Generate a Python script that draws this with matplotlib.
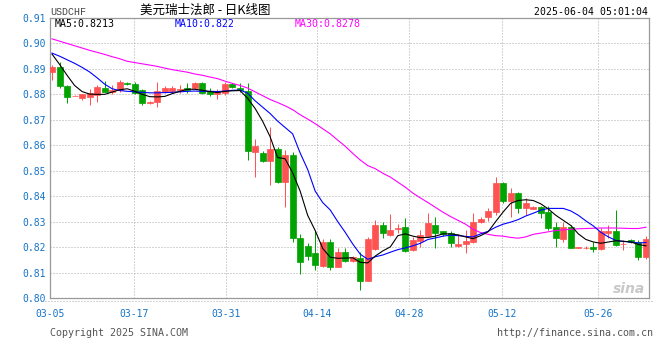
import matplotlib
matplotlib.use("Agg")
from matplotlib import pyplot as plt
from matplotlib.lines import Line2D

# daily candles, 2025-03-04 .. 2025-06-04 (Sina forex, Mon-Sat bars)
opens = [.8889, .8909, .8833, .8793, .8787, .8791, .8797, .8826, .8808, .8817,
         .8846, .8841, .8817, .8765, .8771, .8810, .8812, .8819, .8826, .8826,
         .8843, .8815, .8800, .8804, .8839, .8826, .8814, .8575, .8568, .8539,
         .8585, .8457, .8562, .8234, .8204, .8178, .8126, .8221, .8123, .8182,
         .8146, .8156, .8068, .8192, .8287, .8247, .8272, .8277, .8188, .8224,
         .8245, .8287, .8262, .8254, .8204, .8212, .8221, .8300, .8317, .8339,
         .8450, .8382, .8414, .8352, .8349, .8356, .8339, .8280, .8232, .8277,
         .8198, .8196, .8199, .8192, .8254, .8263, .8211, .8228, .8221, .8162]
highs = [.8915, .8926, .8835, .8796, .8801, .8820, .8837, .8852, .8835, .8856,
         .8848, .8850, .8820, .8773, .8848, .8832, .8832, .8838, .8845, .8850,
         .8850, .8825, .8820, .8850, .8845, .8845, .8843, .8623, .8577, .8670,
         .8595, .8581, .8575, .8251, .8215, .8267, .8230, .8230, .8195, .8195,
         .8165, .8182, .8240, .8306, .8300, .8330, .8290, .8313, .8240, .8267,
         .8333, .8319, .8264, .8263, .8253, .8267, .8335, .8319, .8352, .8477,
         .8457, .8431, .8418, .8392, .8362, .8361, .8361, .8300, .8300, .8285,
         .8201, .8203, .8221, .8274, .8287, .8346, .8228, .8232, .8228, .8243]
lows = [.8856, .8824, .8765, .8792, .8778, .8758, .8771, .8808, .8800, .8810,
        .8838, .8800, .8760, .8763, .8751, .8805, .8805, .8805, .8805, .8820,
        .8800, .8795, .8780, .8798, .8825, .8810, .8542, .8474, .8536, .8444,
        .8450, .8356, .8221, .8094, .8150, .8110, .8120, .8110, .8120, .8140,
        .8143, .8031, .8065, .8188, .8234, .8245, .8254, .8182, .8185, .8201,
        .8241, .8197, .8243, .8199, .8200, .8176, .8218, .8295, .8304, .8326,
        .8372, .8319, .8333, .8326, .8348, .8313, .8267, .8201, .8221, .8197,
        .8197, .8192, .8182, .8188, .8234, .8204, .8188, .8215, .8149, .8152]
closes = [.8909, .8834, .8791, .8795, .8800, .8807, .8828, .8810, .8818, .8849,
          .8840, .8804, .8765, .8771, .8813, .8826, .8826, .8821, .8818, .8843,
          .8807, .8800, .8813, .8839, .8830, .8817, .8579, .8597, .8539, .8585,
          .8457, .8562, .8234, .8143, .8166, .8130, .8221, .8123, .8182, .8146,
          .8160, .8068, .8232, .8287, .8256, .8267, .8274, .8186, .8228, .8247,
          .8296, .8254, .8252, .8218, .8212, .8225, .8300, .8309, .8343, .8453,
          .8382, .8411, .8352, .8372, .8356, .8335, .8276, .8234, .8280, .8197,
          .8200, .8198, .8192, .8262, .8263, .8208, .8213, .8220, .8162, .8230]

# moving averages as drawn on the chart
ma5 = [.8958, .8918, .8875, .8835, .8811, .8801, .8800, .8800, .8809, .8818,
       .8822, .8812, .8800, .8791, .8790, .8792, .8803, .8812, .8820, .8820,
       .8816, .8811, .8807, .8812, .8814, .8815, .8785, .8745, .8695, .8634,
       .8552, .8547, .8492, .8420, .8325, .8265, .8195, .8160, .8156, .8157,
       .8158, .8140, .8138, .8165, .8185, .8201, .8245, .8252, .8243, .8237,
       .8238, .8243, .8252, .8252, .8248, .8240, .8233, .8245, .8260, .8300,
       .8338, .8372, .8383, .8386, .8383, .8370, .8350, .8325, .8305, .8285,
       .8252, .8230, .8220, .8215, .8220, .8225, .8223, .8220, .8210, .8205]
ma10 = [.8962, .8950, .8936, .8922, .8906, .8888, .8865, .8840, .8822, .8815,
        .8812, .8810, .8808, .8806, .8806, .8807, .8808, .8810, .8812, .8813,
        .8812, .8812, .8811, .8813, .8816, .8817, .8805, .8775, .8750, .8725,
        .8695, .8670, .8645, .8570, .8505, .8420, .8375, .8346, .8300, .8258,
        .8212, .8172, .8152, .8162, .8169, .8180, .8190, .8197, .8205, .8215,
        .8230, .8236, .8243, .8247, .8245, .8242, .8240, .8252, .8262, .8278,
        .8290, .8298, .8308, .8322, .8333, .8345, .8352, .8352, .8352, .8342,
        .8325, .8303, .8283, .8258, .8240, .8226, .8222, .8220, .8216, .8218]
ma30 = [.9018, .9009, .9000, .8991, .8982, .8973, .8965, .8957, .8948, .8940,
        .8930, .8925, .8920, .8915, .8910, .8903, .8897, .8892, .8887, .8880,
        .8875, .8868, .8862, .8852, .8843, .8835, .8825, .8810, .8795, .8780,
        .8768, .8755, .8740, .8720, .8703, .8685, .8665, .8645, .8620, .8596,
        .8568, .8542, .8520, .8508, .8490, .8475, .8455, .8435, .8412, .8393,
        .8375, .8356, .8337, .8320, .8305, .8290, .8270, .8257, .8250, .8245,
        .8243, .8238, .8235, .8240, .8250, .8255, .8260, .8265, .8268, .8270,
        .8272, .8273, .8274, .8275, .8275, .8275, .8274, .8273, .8273, .8278]

tick_labels = ["03-05", "03-17", "03-31", "04-14", "04-28", "05-12", "05-26"]
tick_pos = [-0.27, 10.9, 23.1, 35.2, 47.5, 59.8, 72.6]
y_ticks = [0.80, 0.81, 0.82, 0.83, 0.84, 0.85, 0.86, 0.87, 0.88, 0.89, 0.90, 0.91]

UP = "#ff5252"
DOWN = "#00a300"
TICK_BLUE = "#1473c8"
GRID = "#aaaaaa"
MONO = "DejaVu Sans Mono"

W, H = 660, 360
fig = plt.figure(figsize=(W / 100, H / 100), dpi=100)
ax = fig.add_axes([50 / W, 1 - 298 / H, 599 / W, 280 / H])

px = 0.72  # one pixel in points
for y in y_ticks[1:-1]:
    ax.axhline(y, color=GRID, lw=px, ls=(0, (1, 2)), zorder=0)
for x in tick_pos[1:]:
    ax.axvline(x, color=GRID, lw=px, ls=(0, (1, 2)), zorder=0)

# candles
for i in range(len(opens)):
    o, h, l, c = opens[i], highs[i], lows[i], closes[i]
    col = UP if c >= o else DOWN
    ax.vlines(i, l, h, color=col, lw=px, zorder=2)
    ax.bar(i, abs(c - o), bottom=min(o, c), width=0.8, color=col,
           edgecolor=col, linewidth=0.5, zorder=3)

xs = range(len(ma5))
ax.plot(xs, ma30, color="#ff00ff", lw=0.8, zorder=4)
ax.plot(xs, ma10, color="#0000ff", lw=0.8, zorder=5)
ax.plot(xs, ma5, color="black", lw=0.8, zorder=6)

ax.set_xlim(-0.27, 79.4)
ax.set_ylim(0.80, 0.91)
ax.set_yticks(y_ticks, [f"{v:.2f}" for v in y_ticks])
ax.set_xticks(tick_pos, tick_labels)
ax.tick_params(axis="both", length=0, colors=TICK_BLUE, labelsize=7)
ax.tick_params(axis="y", pad=3)
ax.tick_params(axis="x", pad=8)
for lab in ax.get_xticklabels() + ax.get_yticklabels():
    lab.set_family(MONO)
for s in ax.spines.values():
    s.set_color("#999999")
    s.set_linewidth(0.9)

# dotted rule under the plot
fig.add_artist(Line2D([42 / W, 652 / W], [1 - 300.5 / H] * 2, color=GRID,
                      lw=px, ls=(0, (1, 2))))

# header
fig.text(50 / W, 1 - 12 / H, "USDCHF", family="Liberation Mono", fontsize=7.2,
         color="#444444", va="center")
fig.text(140 / W, 1 - 10 / H, "美元瑞士法郎 - 日K线图", fontsize=9,
         family=["Noto Sans CJK SC", "DejaVu Sans"], color="black", va="center")
fig.text(648 / W, 1 - 12 / H, "2025-06-04 05:01:04", family=MONO, fontsize=7.1,
         color="black", va="center", ha="right")

# MA legend
fig.text(55 / W, 1 - 24 / H, "MA5:0.8213", family=MONO, fontsize=7.1,
         color="black", va="center")
fig.text(175 / W, 1 - 24 / H, "MA10:0.822", family=MONO, fontsize=7.1,
         color="#0000ff", va="center")
fig.text(295 / W, 1 - 24 / H, "MA30:0.8278", family=MONO, fontsize=7.1,
         color="#ff00ff", va="center")

# footer
fig.text(50 / W, 1 - 333 / H, "Copyright 2025 SINA.COM", family=MONO,
         fontsize=7.2, color="#555555", va="center")
fig.text(653 / W, 1 - 333 / H, "http://finance.sina.com.cn", family=MONO,
         fontsize=7.2, color="#555555", va="center", ha="right")

# watermark
fig.text(645 / W, 1 - 289 / H, "sina", fontsize=10, style="italic",
         weight="bold", color="#c8c8c8", ha="right", va="center")

fig.savefig("out.png", dpi=100)
